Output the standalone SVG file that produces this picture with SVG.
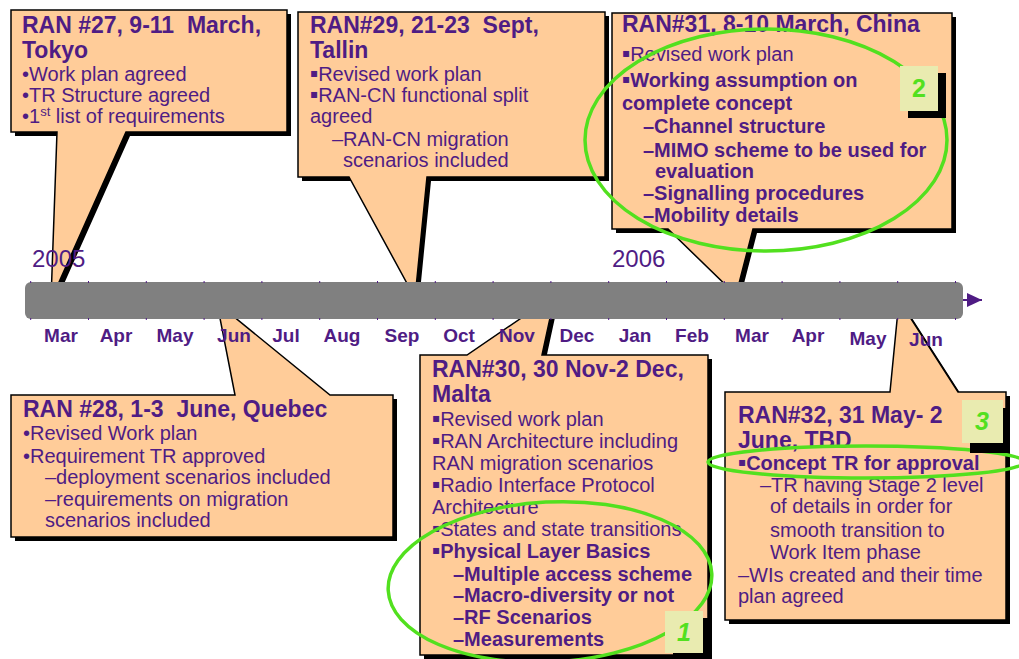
<svg xmlns="http://www.w3.org/2000/svg" width="1019" height="659" viewBox="0 0 1019 659">
<defs>
<style>
text{font-family:"Liberation Sans",Arial,sans-serif;fill:#4f1c84;white-space:pre}
.h{font-size:23px;font-weight:bold}
.b{font-size:20px}
.bb{font-size:20px;font-weight:bold}
.m{font-size:19px;font-weight:bold;text-anchor:middle}
.y{font-size:24px}
.box{fill:#ffcc99;stroke:#000;stroke-width:1.5;stroke-linejoin:miter}
.sh{fill:#000}
.ell{fill:none;stroke:#52e01f;stroke-width:3.5}
.badge{fill:#e9ebb0}
.num{font-size:25px;font-weight:bold;fill:#52e01f;text-anchor:middle}
.sq{font-family:"DejaVu Sans",sans-serif;font-size:12px;baseline-shift:4px}
.tick{stroke:#4f1c84;stroke-width:1}
</style>
<marker id="arr" markerWidth="16" markerHeight="16" refX="15" refY="7" orient="auto" markerUnits="userSpaceOnUse">
<path d="M0,0 L15,7 L0,14 Z" fill="#4f1c84"/>
</marker>
</defs>
<rect width="1019" height="659" fill="#fff"/>

<g id="ran27">
<path class="sh" transform="translate(4,4)" d="M11,10 H287 V132 H126 L51,300 L57,132 H11 Z"/>
<path class="box" d="M11,10 H287 V132 H126 L51,300 L57,132 H11 Z"/>
<text class="h" x="22" y="33">RAN #27, 9-11  March,</text>
<text class="h" x="22" y="58">Tokyo</text>
<text class="b" x="22" y="81">•Work plan agreed</text>
<text class="b" x="22" y="102">•TR Structure agreed</text>
<text class="b" x="22" y="123">•1<tspan font-size="13" dy="-7">st</tspan><tspan dy="7"> list of requirements</tspan></text>
</g>

<g id="ran29">
<path class="sh" transform="translate(4,4)" d="M298,12 H605 V177 H427 L415,298 L349,177 H298 Z"/>
<path class="box" d="M298,12 H605 V177 H427 L415,298 L349,177 H298 Z"/>
<text class="h" x="310" y="33">RAN#29, 21-23  Sept,</text>
<text class="h" x="310" y="58">Tallin</text>
<text class="b" x="310" y="81"><tspan class="sq">▪</tspan>Revised work plan</text>
<text class="b" x="310" y="102"><tspan class="sq">▪</tspan>RAN-CN functional split</text>
<text class="b" x="310" y="123">agreed</text>
<text class="b" x="332" y="146">–RAN-CN migration</text>
<text class="b" x="343" y="167">scenarios included</text>
</g>

<g id="ran31">
<path class="sh" transform="translate(4,4)" d="M612,13 H952 V229 H753 L736,295 L668,229 H612 Z"/>
<path class="box" d="M612,13 H952 V229 H753 L736,295 L668,229 H612 Z"/>
<text class="h" x="622" y="32">RAN#31, 8-10 March, China</text>
<text class="b" x="622" y="61"><tspan class="sq">▪</tspan>Revised work plan</text>
<text class="bb" x="622" y="87"><tspan class="sq">▪</tspan>Working assumption on</text>
<text class="bb" x="622" y="110">complete concept</text>
<text class="bb" x="643" y="133">–Channel structure</text>
<text class="bb" x="643" y="157">–MIMO scheme to be used for</text>
<text class="bb" x="655" y="178">evaluation</text>
<text class="bb" x="643" y="200">–Signalling procedures</text>
<text class="bb" x="643" y="222">–Mobility details</text>
</g>

<g id="ran28">
<path class="sh" transform="translate(4,4)" d="M11,395 H235 L217,303 L330,395 H393 V537 H11 Z"/>
<path class="box" d="M11,395 H235 L217,303 L330,395 H393 V537 H11 Z"/>
<text class="h" x="23" y="417">RAN #28, 1-3  June, Quebec</text>
<text class="b" x="23" y="440">•Revised Work plan</text>
<text class="b" x="23" y="463">•Requirement TR approved</text>
<text class="b" x="45" y="484">–deployment scenarios included</text>
<text class="b" x="45" y="506">–requirements on migration</text>
<text class="b" x="45" y="527">scenarios included</text>
</g>

<g id="ran30">
<path class="sh" transform="translate(4,4)" d="M420,355 H467 L555,295 L542,355 H708 V655 H420 Z"/>
<path class="box" d="M420,355 H467 L555,295 L542,355 H708 V655 H420 Z"/>
<text class="h" x="432" y="377">RAN#30, 30 Nov-2 Dec,</text>
<text class="h" x="432" y="402">Malta</text>
<text class="b" x="432" y="426"><tspan class="sq">▪</tspan>Revised work plan</text>
<text class="b" x="432" y="448"><tspan class="sq">▪</tspan>RAN Architecture including</text>
<text class="b" x="432" y="470">RAN migration scenarios</text>
<text class="b" x="432" y="492"><tspan class="sq">▪</tspan>Radio Interface Protocol</text>
<text class="b" x="432" y="514">Architecture</text>
<text class="b" x="432" y="536"><tspan class="sq">▪</tspan>States and state transitions</text>
<text class="bb" x="432" y="558"><tspan class="sq">▪</tspan>Physical Layer Basics</text>
<text class="bb" x="453" y="581">–Multiple access scheme</text>
<text class="bb" x="453" y="602">–Macro-diversity or not</text>
<text class="bb" x="453" y="624">–RF Scenarios</text>
<text class="bb" x="453" y="646">–Measurements</text>
</g>

<g id="ran32">
<path class="sh" transform="translate(4,4)" d="M725,392 H890 L899,300 L958,392 H1006 V620 H725 Z"/>
<path class="box" d="M725,392 H890 L899,300 L958,392 H1006 V620 H725 Z"/>
<text class="h" x="738" y="423">RAN#32, 31 May- 2</text>
<text class="h" x="738" y="448">June, TBD</text>
<text class="bb" x="738" y="470"><tspan class="sq">▪</tspan>Concept TR for approval</text>
<text class="b" x="760" y="492">–TR having Stage 2 level</text>
<text class="b" x="770" y="513">of details in order for</text>
<text class="b" x="770" y="537">smooth transition to</text>
<text class="b" x="770" y="559">Work Item phase</text>
<text class="b" x="738" y="582">–WIs created and their time</text>
<text class="b" x="738" y="603">plan agreed</text>
</g>

<g id="connectors">
<line x1="958" y1="300" x2="982" y2="300" stroke="#4f1c84" stroke-width="2" marker-end="url(#arr)"/>
</g>

<g id="timeline">
<rect x="25" y="282" width="938" height="37" rx="6" fill="#808080"/>
<g class="tick">
<path d="M30.7,281v2M88.5,281v2M146.3,281v2M204.1,281v2M261.9,281v2M319.7,281v2M377.5,281v2M435.3,281v2M493.1,281v2M550.9,281v2M608.7,281v2M666.5,281v2M724.3,281v2M782.1,281v2M839.9,281v2M897.7,281v2M955.5,281v2"/>
<path d="M30.7,318v2M88.5,318v2M146.3,318v2M204.1,318v2M261.9,318v2M319.7,318v2M377.5,318v2M435.3,318v2M493.1,318v2M550.9,318v2M608.7,318v2M666.5,318v2M724.3,318v2M782.1,318v2M839.9,318v2M897.7,318v2M955.5,318v2"/>
</g>
<text class="y" x="32" y="267">2005</text>
<text class="y" x="612" y="267">2006</text>
<text class="m" x="61" y="342">Mar</text>
<text class="m" x="116" y="342">Apr</text>
<text class="m" x="175" y="342">May</text>
<text class="m" x="234" y="342">Jun</text>
<text class="m" x="286" y="342">Jul</text>
<text class="m" x="342" y="342">Aug</text>
<text class="m" x="402" y="342">Sep</text>
<text class="m" x="459" y="342">Oct</text>
<text class="m" x="517" y="342">Nov</text>
<text class="m" x="577" y="342">Dec</text>
<text class="m" x="635" y="342">Jan</text>
<text class="m" x="692" y="342">Feb</text>
<text class="m" x="752" y="342">Mar</text>
<text class="m" x="808" y="342">Apr</text>
<text class="m" x="868" y="345">May</text>
<text class="m" x="926" y="346">Jun</text>
</g>

<g id="highlight1">
<ellipse class="ell" cx="550" cy="582" rx="162" ry="80" transform="rotate(-3 550 582)"/>
<rect class="sh" x="673" y="618" width="39" height="42"/>
<rect class="badge" x="665" y="611" width="38" height="42"/>
<text class="num" x="684" y="641" font-style="italic">1</text>
</g>

<g id="highlight2">
<ellipse class="ell" cx="766" cy="140" rx="181" ry="111"/>
<rect class="sh" x="908" y="73" width="38" height="45"/>
<rect class="badge" x="900" y="66" width="38" height="45"/>
<text class="num" x="919" y="97">2</text>
</g>

<g id="highlight3">
<ellipse class="ell" cx="866" cy="462" rx="158" ry="16"/>
<rect class="sh" x="970" y="408" width="40" height="45"/>
<rect class="badge" x="962" y="400" width="41" height="43"/>
<text class="num" x="982" y="430" font-style="italic">3</text>
</g>
</svg>
